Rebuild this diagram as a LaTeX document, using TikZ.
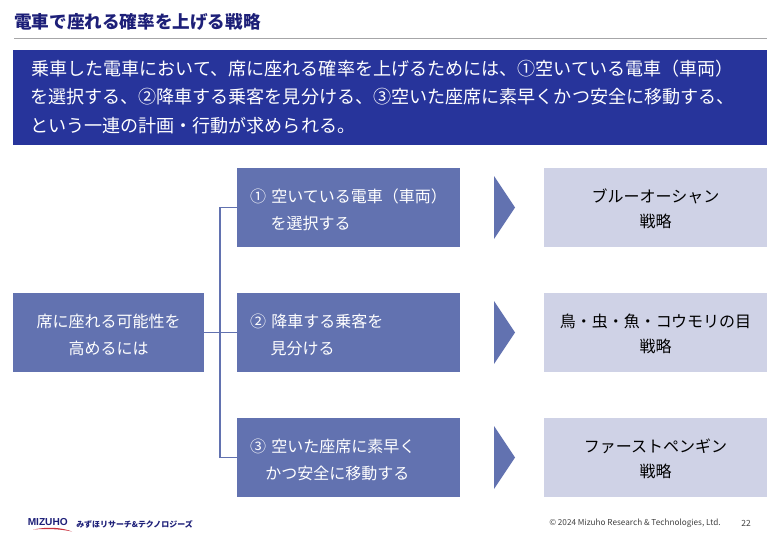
\documentclass[tikz,border=0pt]{standalone}
\usepackage{fontspec}
\setmainfont{Noto Sans CJK JP}
\newfontfamily\latinfont{Liberation Sans}
\definecolor{navy}{HTML}{1D1F78}
\definecolor{banner}{HTML}{27349B}
\definecolor{midblue}{HTML}{6272B0}
\definecolor{pale}{HTML}{CFD2E6}
\definecolor{rulegray}{HTML}{A6A6A8}
\definecolor{footgray}{HTML}{404040}
\definecolor{logored}{HTML}{C8303C}
\newcommand{\midtext}{\fontsize{12pt}{20pt}\selectfont}
\newcommand{\sidetext}{\fontsize{12pt}{18.6pt}\selectfont}
\newcommand{\pushm}{\rule{0pt}{13.6pt}}
\newcommand{\pushr}{\rule{0pt}{12.6pt}}
\tikzset{
  x=0.75pt,y=-0.75pt,
  boxbase/.style={rectangle,inner sep=0pt,outer sep=0pt,minimum height=59.25pt},
  leftbox/.style={boxbase,fill=midblue,text=white,minimum width=143.25pt,align=center,font=\midtext},
  midbox/.style={boxbase,fill=midblue,text=white,minimum width=167.25pt,text width=147.75pt,align=left,font=\midtext},
  rightbox/.style={boxbase,fill=pale,text=black,minimum width=167.25pt,align=center,font=\sidetext},
  link/.style={draw=midblue,line width=0.9pt},
  chevron/.style={fill=midblue},
  foot/.style={inner sep=0pt,text=footgray}
}
\begin{document}
\begin{tikzpicture}
\useasboundingbox (0,0) rectangle (780,540);
\node[anchor=west,inner sep=0pt,text=navy,font=\fontsize{13.2pt}{16pt}\selectfont\bfseries] (title) at (14,22) {電車で座れる確率を上げる戦略};
\draw[rulegray,line width=0.7pt] (14,38) coordinate (ruleL) -- (767,38) coordinate (ruleR);
\node[rectangle,fill=banner,text=white,inner sep=0pt,minimum width=565.5pt,minimum height=71.25pt,text width=540pt,align=left,font=\fontsize{13.55pt}{21.1pt}\selectfont] (banner) at (390,97)
{\hspace*{1pt}乗車した電車において、席に座れる確率を上げるためには、①空いている電車（車両）\\
を選択する、②降車する乗客を見分ける、③空いた座席に素早くかつ安全に移動する、\\
という一連の計画・行動が求められる。};

\node[leftbox] (left) at (108.5,332.5) {\pushm 席に座れる可能性を\\高めるには};
\node[midbox] (m1) at (348.5,207.5) {\pushm ① 空いている電車（車両）\\\hspace*{15.4pt}を選択する};
\node[midbox] (m2) at (348.5,332.5) {\pushm ② 降車する乗客を\\\hspace*{15.4pt}見分ける};
\node[midbox] (m3) at (348.5,457.5) {\pushm ③ 空いた座席に素早く\\\hspace*{11.6pt}かつ安全に移動する};
\node[rightbox] (r1) at (655.5,207.5) {\pushr ブルーオーシャン\\戦略};
\node[rightbox] (r2) at (655.5,332.5) {\pushr 鳥・虫・魚・コウモリの目\\戦略};
\node[rightbox] (r3) at (655.5,457.5) {\pushr ファーストペンギン\\戦略};

\coordinate (junction) at (220,332.5);
\draw[link] (left.east) -- (m2.west);
\draw[link] (m1.west) -| (junction) |- (m3.west);

\fill[chevron] (494,176) -- (515,207.5) -- (494,239) -- cycle;
\fill[chevron] (494,301) -- (515,332.5) -- (494,364) -- cycle;
\fill[chevron] (494,426) -- (515,457.5) -- (494,489) -- cycle;

\node[anchor=west,inner sep=0pt,text=navy,font=\latinfont\bfseries\fontsize{7.6pt}{9pt}\selectfont] (logo) at (27.5,522) {MIZUHO};
\fill[logored] (33,529.5) .. controls (48,526.5) and (62,527.5) .. (72,531.5) .. controls (60,529) and (48,528.5) .. (33,529.5) -- cycle;
\node[anchor=west,inner sep=0pt,text=navy,font=\fontsize{5.96pt}{7pt}\selectfont\bfseries] (brand) at (76,524) {みずほリサーチ\&テクノロジーズ};
\node[foot,anchor=east,font=\fontsize{6.15pt}{8pt}\selectfont] (copy) at (721,523) {© 2024 Mizuho Research \& Technologies, Ltd.};
\node[foot,anchor=east,font=\fontsize{6.4pt}{8pt}\selectfont] (page) at (751,523) {22};
\end{tikzpicture}
\end{document}
